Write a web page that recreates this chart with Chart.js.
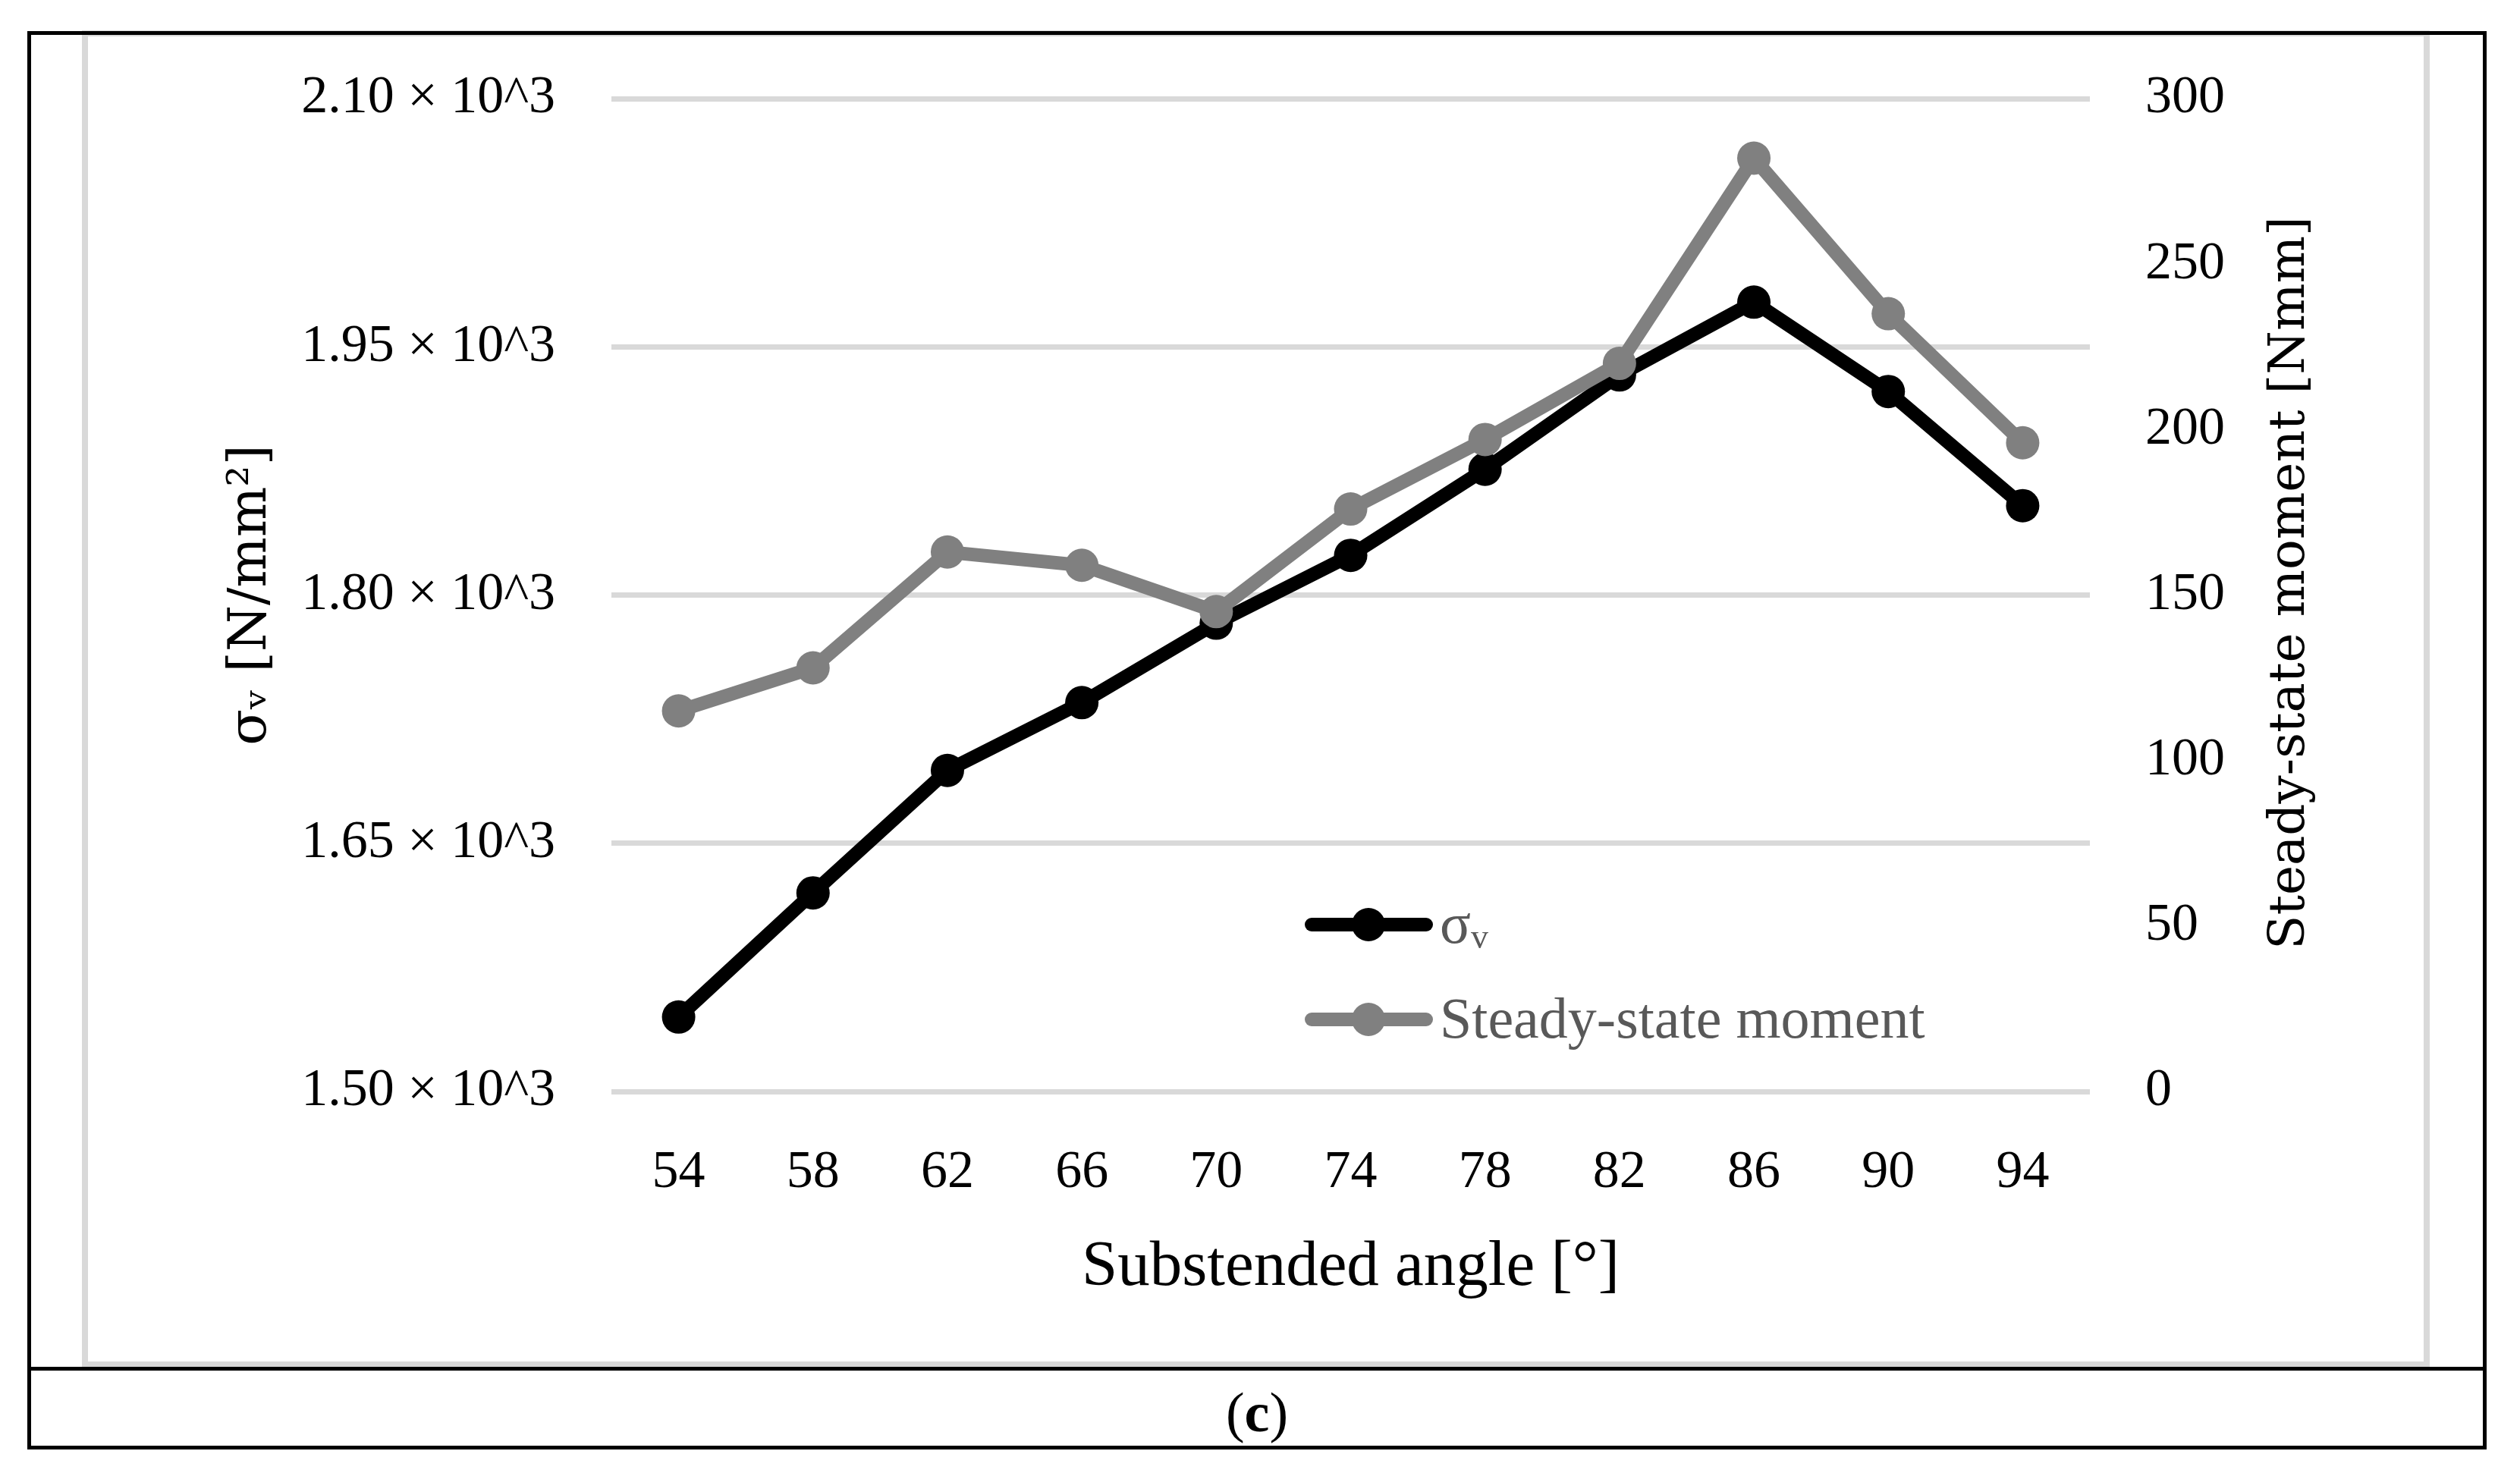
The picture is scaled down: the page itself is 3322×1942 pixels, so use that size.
<!DOCTYPE html>
<html>
<head>
<meta charset="utf-8">
<title>σv and steady-state moment vs substended angle</title>
<script src="https://cdn.jsdelivr.net/npm/chart.js@4.4.1/dist/chart.umd.min.js"></script>
<style>
  html, body { margin: 0; padding: 0; background: #fff; }
  body { width: 3322px; height: 1942px; position: relative; overflow: hidden; }
  .box { position: absolute; box-sizing: border-box; }
  #plotFrame { left: 108px; top: 40px; width: 3095px; height: 1763px; border: 8px solid #d9d9d9; }
  #outer { left: 36px; top: 41px; width: 3242px; height: 1870px; border: 5px solid #000; }
  #divider { left: 36px; top: 1802px; width: 3242px; height: 5px; background: #000; }
  #caption {
    position: absolute; left: 36px; top: 1813px; width: 3242px; height: 99px;
    display: flex; align-items: center; justify-content: center;
    font: 74px "Liberation Serif", serif; color: #000;
  }
  canvas { position: absolute; left: 0; top: 0; }
</style>
</head>
<body>
<div class="box" id="plotFrame"></div>
<div class="box" id="outer"></div>
<div class="box" id="divider"></div>
<div id="caption">(<b>c</b>)</div>
<canvas id="chart" width="3322" height="1942"></canvas>

<script>
// values
const angles = ['54', '58', '62', '66', '70', '74', '78', '82', '86', '90', '94'];
const sigmaV = [1545, 1620, 1694, 1735, 1783, 1824, 1876, 1933, 1977, 1923, 1854];
const moment = [115, 128, 163, 159, 145, 176, 197, 220, 282, 235, 196];

const sigmaTicks = ['1.50 × 10^3', '1.65 × 10^3', '1.80 × 10^3', '1.95 × 10^3', '2.10 × 10^3'];
const momentTicks = ['0', '50', '100', '150', '200', '250', '300'];

const xTitle = 'Substended angle [°]';
const leftTitle = 'σᵥ [N/mm²]';
const rightTitle = 'Steady-state moment [Nmm]';

const SERIF = '"Liberation Serif", serif';
const WIDE_SERIF = '"DejaVu Serif", serif';

/**
 * Excel-style legend drawn inside the plot (line + marker + label)
 */
const innerLegend = {
    id: 'innerLegend',
    afterDraw(chart) {
        const { ctx } = chart;
        const rows = [
            { ds: chart.data.datasets[1], y: 1219, sub: true },
            { ds: chart.data.datasets[0], y: 1344, sub: false }
        ];
        ctx.save();
        rows.forEach(row => {
            ctx.strokeStyle = row.ds.borderColor;
            ctx.fillStyle = row.ds.borderColor;
            ctx.lineWidth = 18;
            ctx.lineCap = 'round';
            ctx.beginPath();
            ctx.moveTo(1729, row.y);
            ctx.lineTo(1880, row.y);
            ctx.stroke();
            ctx.beginPath();
            ctx.arc(1804, row.y, 22, 0, Math.PI * 2);
            ctx.fill();

            ctx.fillStyle = '#595959';
            ctx.textBaseline = 'alphabetic';
            ctx.textAlign = 'left';
            if (row.sub) {
                ctx.font = '76px ' + SERIF;
                ctx.fillText('σ', 1898, row.y + 24);
                const w = ctx.measureText('σ').width;
                ctx.font = '46px ' + SERIF;
                ctx.fillText('v', 1898 + w, row.y + 31);
            } else {
                ctx.font = '76px ' + SERIF;
                ctx.fillText(row.ds.label, 1898, row.y + 24);
            }
        });
        ctx.restore();
    }
};

/**
 * right axis title, reading bottom to top like the original
 */
const rightAxisTitle = {
    id: 'rightAxisTitle',
    afterDraw(chart) {
        const { ctx, chartArea } = chart;
        const scale = chart.scales.yMoment;
        ctx.save();
        ctx.translate(scale.right - 172, (chartArea.top + chartArea.bottom) / 2 - 16);
        ctx.rotate(-Math.PI / 2);
        ctx.font = '66px ' + WIDE_SERIF;
        ctx.fillStyle = '#000';
        ctx.textAlign = 'center';
        ctx.textBaseline = 'middle';
        ctx.fillText(rightTitle, 0, 0);
        ctx.restore();
    }
};

const ctx = document.getElementById('chart').getContext('2d');

const chart = new Chart(ctx, {
    type: 'line',
    data: {
        labels: angles,
        datasets: [
            {
                label: 'Steady-state moment',
                data: moment,
                yAxisID: 'yMoment',
                borderColor: '#808080',
                backgroundColor: '#808080',
                pointBackgroundColor: '#808080',
                borderWidth: 18,
                pointRadius: 22,
                pointBorderWidth: 0,
                tension: 0,
                order: 0
            },
            {
                label: 'σv',
                data: sigmaV,
                yAxisID: 'ySigma',
                borderColor: '#000000',
                backgroundColor: '#000000',
                pointBackgroundColor: '#000000',
                borderWidth: 18,
                pointRadius: 22,
                pointBorderWidth: 0,
                tension: 0,
                order: 1
            }
        ]
    },
    options: {
        responsive: false,
        devicePixelRatio: 1,
        animation: false,
        layout: {
            padding: { left: 120, right: 130, top: 130, bottom: 143 }
        },
        plugins: {
            legend: { display: false },
            tooltip: { enabled: false }
        },
        scales: {
            x: {
                offset: true,
                grid: { display: false, drawTicks: false },
                border: { display: false },
                ticks: {
                    color: '#000',
                    padding: 66,
                    font: { family: SERIF, size: 70 }
                },
                title: {
                    display: true,
                    text: xTitle,
                    color: '#000',
                    font: { family: SERIF, size: 85 },
                    padding: { top: 0, bottom: 76 }
                },
                afterFit: (scale) => { scale.height = 360; }
            },
            ySigma: {
                position: 'left',
                min: 1500,
                max: 2100,
                grid: { color: '#d9d9d9', lineWidth: 7, drawTicks: false },
                border: { display: false },
                ticks: {
                    stepSize: 150,
                    color: '#000',
                    padding: 74,
                    font: { family: SERIF, size: 70 },
                    callback: (v) => sigmaTicks[Math.round((v - 1500) / 150)]
                },
                title: {
                    display: true,
                    text: leftTitle,
                    color: '#000',
                    font: { family: WIDE_SERIF, size: 70 },
                    padding: { top: 170, bottom: 0 }
                },
                afterFit: (scale) => { scale.width = 686; }
            },
            yMoment: {
                position: 'right',
                min: 0,
                max: 300,
                grid: { display: false, drawTicks: false },
                border: { display: false },
                ticks: {
                    stepSize: 50,
                    color: '#000',
                    padding: 73,
                    font: { family: SERIF, size: 70 },
                    callback: (v) => momentTicks[Math.round(v / 50)]
                },
                afterFit: (scale) => { scale.width = 437; }
            }
        }
    },
    plugins: [innerLegend, rightAxisTitle]
});
</script>
</body>
</html>
